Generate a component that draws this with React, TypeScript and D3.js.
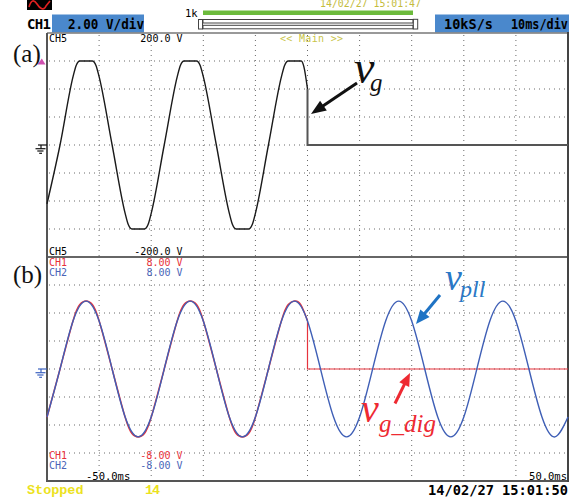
import React from "react";
import * as d3 from "d3";

const W = 585;
const H = 502;

// Time base (ms) and vertical ranges of the two panels
const timeRange = [-50, 50];
const voltRangeA = [-200, 200];
const voltRangeB = [-8, 8];

// (a) grid voltage v_g, CH5 (V) up to the disconnection at t = 0
const vgTime = [
  -50, -47.5, -45, -44.4, -43.7, -41.3, -40.6, -40, -37.5,
  -35, -34.4, -33.7, -31.3, -30.6, -30, -27.5,
  -25, -24.4, -23.7, -21.3, -20.6, -20, -17.5,
  -15, -14.4, -13.7, -11.3, -10.6, -10, -7.5,
  -5, -4.4, -3.7, -1.2, -0.7, 0,
];
const vgVolts = [
  -105, 0, 122, 142, 150, 150, 142, 122, 0,
  -122, -142, -150, -150, -142, -122, 0,
  122, 142, 150, 150, 142, 122, 0,
  -122, -142, -150, -150, -142, -122, 0,
  122, 142, 150, 150, 140, 100,
];
// after the disconnection
const vgOffTime = [0, 0, 50];
const vgOffVolts = [100, 0, 0];

// (b) CH1: digitised grid voltage v_g_dig (V)
const digTime = [
  -50, -47.5, -45, -43.7, -42.5, -41.3, -40, -37.5,
  -35, -33.7, -32.5, -31.3, -30, -27.5,
  -25, -23.7, -22.5, -21.3, -20, -17.5,
  -15, -13.7, -12.5, -11.3, -10, -7.5,
  -5, -3.7, -2.5, -1.3, 0,
];
const digVolts = [
  -3.45, 0, 3.45, 4.6, 4.85, 4.6, 3.45, 0,
  -3.45, -4.6, -4.85, -4.6, -3.45, 0,
  3.45, 4.6, 4.85, 4.6, 3.45, 0,
  -3.45, -4.6, -4.85, -4.6, -3.45, 0,
  3.45, 4.6, 4.85, 4.6, 3.45,
];
const digOffTime = [0, 0, 50];
const digOffVolts = [3.45, 0, 0];

// (b) CH2: PLL output v_pll (V)
const pllTime = [
  -50, -47.5, -45, -42.5, -40, -37.5, -35, -32.5, -30, -27.5,
  -25, -22.5, -20, -17.5, -15, -12.5, -10, -7.5, -5, -2.5,
  0, 2.5, 5, 7.5, 10, 12.5, 15, 17.5, 20, 22.5,
  25, 27.5, 30, 32.5, 35, 37.5, 40, 42.5, 45, 47.5, 50,
];
const pllVolts = [
  -3.43, 0, 3.43, 4.85, 3.43, 0, -3.43, -4.85, -3.43, 0,
  3.43, 4.85, 3.43, 0, -3.43, -4.85, -3.43, 0, 3.43, 4.85,
  3.43, 0, -3.43, -4.85, -3.43, 0, 3.43, 4.85, 3.43, 0,
  -3.43, -4.85, -3.43, 0, 3.43, 4.85, 3.43, 0, -3.43, -4.85, -3.43,
];

// Scope readouts
const headerChannel = "CH1";
const headerScale = "2.00 V/div";
const headerRate = "10kS/s";
const headerTimeDiv = "10ms/div";
const headerZoom = "1k";
const headerDate = "14/02/27 15:01:47";
const footerDate = "14/02/27 15:01:50";
const timeLabels = ["-50.0ms", "50.0ms"];
const chALabels = ["CH5", "200.0 V", "-200.0 V"];
const chBTopLabels = ["CH1", "8.00 V", "CH2", "8.00 V"];
const chBBottomLabels = ["CH1", "-8.00 V", "CH2", "-8.00 V"];

const MONO = "'DejaVu Sans Mono', monospace";
const SERIF = "'Liberation Serif', 'Times New Roman', serif";

const BLUE_TRACE = "#3f5fb6";
const RED_TRACE = "#e6333d";
const CH1_TEXT = "#e8303a";
const CH2_TEXT = "#4a64b8";

const plotLeft = 47;
const plotRight = 568;
const topA = 33;
const midY = 257;
const bottomB = 481;

function Arrow({ x1, y1, x2, y2, color, width, head, headW }: any) {
  const a = Math.atan2(y2 - y1, x2 - x1);
  const bx = x2 - head * Math.cos(a);
  const by = y2 - head * Math.sin(a);
  const px = (-Math.sin(a) * headW) / 2;
  const py = (Math.cos(a) * headW) / 2;
  return (
    <g>
      <line x1={x1} y1={y1} x2={bx + 2 * Math.cos(a)} y2={by + 2 * Math.sin(a)} stroke={color} strokeWidth={width} />
      <polygon points={`${x2},${y2} ${bx + px},${by + py} ${bx - px},${by - py}`} fill={color} />
    </g>
  );
}

function Ground({ y, color }: { y: number; color: string }) {
  return (
    <g stroke={color} strokeWidth={1.2}>
      <line x1={38} y1={y} x2={47} y2={y} />
      <line x1={41} y1={y} x2={41} y2={y + 3.7} />
      <line x1={35.5} y1={y + 3.7} x2={45.5} y2={y + 3.7} />
      <line x1={37.3} y1={y + 6} x2={43.5} y2={y + 6} />
      <line x1={39.2} y1={y + 8.3} x2={42} y2={y + 8.3} />
    </g>
  );
}

export default function App() {
  const x = d3.scaleLinear().domain(timeRange).range([plotLeft, plotRight]);
  const yA = d3.scaleLinear().domain(voltRangeA).range([midY, topA]);
  const yB = d3.scaleLinear().domain(voltRangeB).range([bottomB, midY]);

  const pairs = (t: number[], v: number[]) => t.map((d, i) => [d, v[i]] as [number, number]);

  const lineA = () => d3.line<[number, number]>().x((d) => x(d[0])).y((d) => yA(d[1]));
  const lineB = () => d3.line<[number, number]>().x((d) => x(d[0])).y((d) => yB(d[1]));

  const vgPath = lineA().curve(d3.curveMonotoneX)(pairs(vgTime, vgVolts)) || "";
  const vgOffPath = lineA()(pairs(vgOffTime, vgOffVolts)) || "";
  const digPath = lineB().curve(d3.curveNatural)(pairs(digTime, digVolts)) || "";
  const digOffPath = lineB()(pairs(digOffTime, digOffVolts)) || "";
  const pllPath = lineB().curve(d3.curveNatural)(pairs(pllTime, pllVolts)) || "";

  const vGrid = x.ticks(10).slice(1, -1);
  const hGridA = yA.ticks(8).slice(1, -1);
  const hGridB = yB.ticks(8).slice(1, -1);

  return (
    <svg width={W} height={H} style={{ position: "absolute", left: 0, top: 0, background: "#fff" }}>
      <rect x={0} y={0} width={W} height={H} fill="#fff" />

      {/* header */}
      <rect x={27} y={0} width={25} height={10} fill="#000" />
      <path d="M29,7 C31,0 34,-1 37,4 S44,11 46,6 L50,1" fill="none" stroke="#e02020" strokeWidth={1.6} />
      <text x={27} y={28.5} fontFamily={MONO} fontSize={14} fontWeight="bold" textLength={24} fill="#000">{headerChannel}</text>
      <rect x={52} y={14.5} width={92} height={18} fill="#4a88cc" />
      <text x={68} y={28.5} fontFamily={MONO} fontSize={13.5} fontWeight="bold" textLength={76} lengthAdjust="spacingAndGlyphs" fill="#000">{headerScale}</text>
      <text x={185} y={16.5} fontFamily={MONO} fontSize={10.5} fill="#000">{headerZoom}</text>
      <rect x={203} y={10.5} width={210} height={4.5} fill="#6cbb3c" />
      <g fill="none" stroke="#444" strokeWidth={1}>
        <rect x={198.5} y={19.5} width={4} height={9.5} />
        <rect x={203} y={19.5} width={210} height={3.5} />
        <rect x={203} y={25.3} width={210} height={3.5} />
        <rect x={413.3} y={19.3} width={4.4} height={9.7} />
      </g>
      <text x={320} y={6.5} fontFamily={MONO} fontSize={10} textLength={101} lengthAdjust="spacingAndGlyphs" fill="#c4bc3c">{headerDate}</text>
      <rect x={435} y={14.5} width={134} height={18} fill="#4a88cc" />
      <text x={444} y={28.5} fontFamily={MONO} fontSize={13.5} fontWeight="bold" textLength={49} lengthAdjust="spacingAndGlyphs" fill="#000">{headerRate}</text>
      <text x={511} y={28.5} fontFamily={MONO} fontSize={13.5} fontWeight="bold" textLength={57} lengthAdjust="spacingAndGlyphs" fill="#000">{headerTimeDiv}</text>

      {/* grid */}
      <g stroke="#6a6a6a" strokeWidth={1} strokeDasharray="1 4">
        {vGrid.map((t) => (
          <line key={"v" + t} x1={x(t)} y1={topA + 2} x2={x(t)} y2={bottomB} />
        ))}
        {hGridA.map((v) => (
          <line key={"a" + v} x1={plotLeft + 2} y1={yA(v)} x2={plotRight - 2} y2={yA(v)} />
        ))}
        {hGridB.map((v) => (
          <line key={"b" + v} x1={plotLeft + 2} y1={yB(v)} x2={plotRight - 2} y2={yB(v)} />
        ))}
      </g>

      {/* frame */}
      <line x1={plotLeft} y1={topA} x2={plotRight} y2={topA} stroke="#777" strokeWidth={1.5} />
      <line x1={plotLeft} y1={midY} x2={plotRight} y2={midY} stroke="#666" strokeWidth={2} />
      <line x1={plotLeft} y1={bottomB} x2={plotRight} y2={bottomB} stroke="#555" strokeWidth={2} />
      <line x1={plotLeft} y1={topA} x2={plotLeft} y2={bottomB + 1} stroke="#555" strokeWidth={2} />
      <line x1={plotRight} y1={topA - 1} x2={plotRight} y2={bottomB + 1} stroke="#444" strokeWidth={2} />

      {/* panel (a) readouts */}
      <text x={49} y={41.5} fontFamily={MONO} fontSize={10} fill="#000">{chALabels[0]}</text>
      <text x={182.5} y={41.5} fontFamily={MONO} fontSize={10} textAnchor="end" fill="#000">{chALabels[1]}</text>
      <text x={280} y={41.5} fontFamily={MONO} fontSize={10} textLength={63} fill="#c8c448">{"<< Main >>"}</text>
      <text x={49} y={255} fontFamily={MONO} fontSize={10} fill="#000">{chALabels[0]}</text>
      <text x={182.5} y={255} fontFamily={MONO} fontSize={10} textAnchor="end" fill="#000">{chALabels[2]}</text>

      {/* panel (b) readouts */}
      <text x={49} y={265.5} fontFamily={MONO} fontSize={10} fill={CH1_TEXT}>{chBTopLabels[0]}</text>
      <text x={182.5} y={265.5} fontFamily={MONO} fontSize={10} textAnchor="end" fill={CH1_TEXT}>{chBTopLabels[1]}</text>
      <text x={49} y={275.5} fontFamily={MONO} fontSize={10} fill={CH2_TEXT}>{chBTopLabels[2]}</text>
      <text x={182.5} y={275.5} fontFamily={MONO} fontSize={10} textAnchor="end" fill={CH2_TEXT}>{chBTopLabels[3]}</text>
      <text x={49} y={458.5} fontFamily={MONO} fontSize={10} fill={CH1_TEXT}>{chBBottomLabels[0]}</text>
      <text x={182.5} y={458.5} fontFamily={MONO} fontSize={10} textAnchor="end" fill={CH1_TEXT}>{chBBottomLabels[1]}</text>
      <text x={49} y={468.5} fontFamily={MONO} fontSize={10} fill={CH2_TEXT}>{chBBottomLabels[2]}</text>
      <text x={182.5} y={468.5} fontFamily={MONO} fontSize={10} textAnchor="end" fill={CH2_TEXT}>{chBBottomLabels[3]}</text>
      <text x={86} y={479.5} fontFamily={MONO} fontSize={10.5} fill="#000">{timeLabels[0]}</text>
      <text x={567} y={479.5} fontFamily={MONO} fontSize={10.5} textAnchor="end" fill="#000">{timeLabels[1]}</text>

      {/* markers */}
      <polygon points="37.5,64.5 45.5,64.5 41.8,58.5" fill="#d050b0" />
      <Ground y={yA(0)} color="#111" />
      <Ground y={yB(0)} color="#3d63c0" />

      {/* traces */}
      <path d={vgPath} fill="none" stroke="#1a1a1a" strokeWidth={1.4} />
      <path d={vgOffPath} fill="none" stroke="#555" strokeWidth={2} />
      <path d={digPath} fill="none" stroke={RED_TRACE} strokeWidth={1.5} />
      <path d={digOffPath} fill="none" stroke={RED_TRACE} strokeWidth={1.2} />
      <path d={pllPath} fill="none" stroke={BLUE_TRACE} strokeWidth={1.4} />

      {/* panel tags */}
      <text x={13} y={61.5} fontFamily={SERIF} fontSize={25} fill="#111">(a)</text>
      <text x={13} y={283} fontFamily={SERIF} fontSize={25} fill="#111">(b)</text>

      {/* annotations */}
      <text x={354} y={82.5} fontFamily={SERIF} fontStyle="italic" fontSize={46} fill="#111">v</text>
      <text x={370} y={90.5} fontFamily={SERIF} fontStyle="italic" fontSize={25} fill="#111">g</text>
      <Arrow x1={357} y1={83} x2={311} y2={114} color="#111" width={3} head={15} headW={12} />

      <text x={445} y={290} fontFamily={SERIF} fontStyle="italic" fontSize={38} fill="#2a78c6">v</text>
      <text x={460} y={297} fontFamily={SERIF} fontStyle="italic" fontSize={24} fill="#2a78c6">pll</text>
      <Arrow x1={440} y1={295} x2={416} y2={324} color="#1f73c4" width={3} head={14} headW={12} />

      <text x={361} y={422} fontFamily={SERIF} fontStyle="italic" fontSize={40} fill="#ee2a32">v</text>
      <text x={379} y={431.5} fontFamily={SERIF} fontStyle="italic" fontSize={25} fill="#ee2a32">g_dig</text>
      <Arrow x1={395} y1={403.5} x2={410} y2={373} color="#ee2a32" width={3} head={13} headW={11} />

      {/* footer */}
      <text x={27} y={494} fontFamily="'Liberation Mono', monospace" fontSize={13.5} fontWeight="bold" textLength={56.5} fill="#ece21e">Stopped</text>
      <text x={145} y={494} fontFamily="'Liberation Mono', monospace" fontSize={13.5} fontWeight="bold" textLength={15} fill="#ece21e">14</text>
      <text x={428} y={494.5} fontFamily={MONO} fontSize={13.5} fontWeight="bold" textLength={140} lengthAdjust="spacingAndGlyphs" fill="#000">{footerDate}</text>
    </svg>
  );
}
